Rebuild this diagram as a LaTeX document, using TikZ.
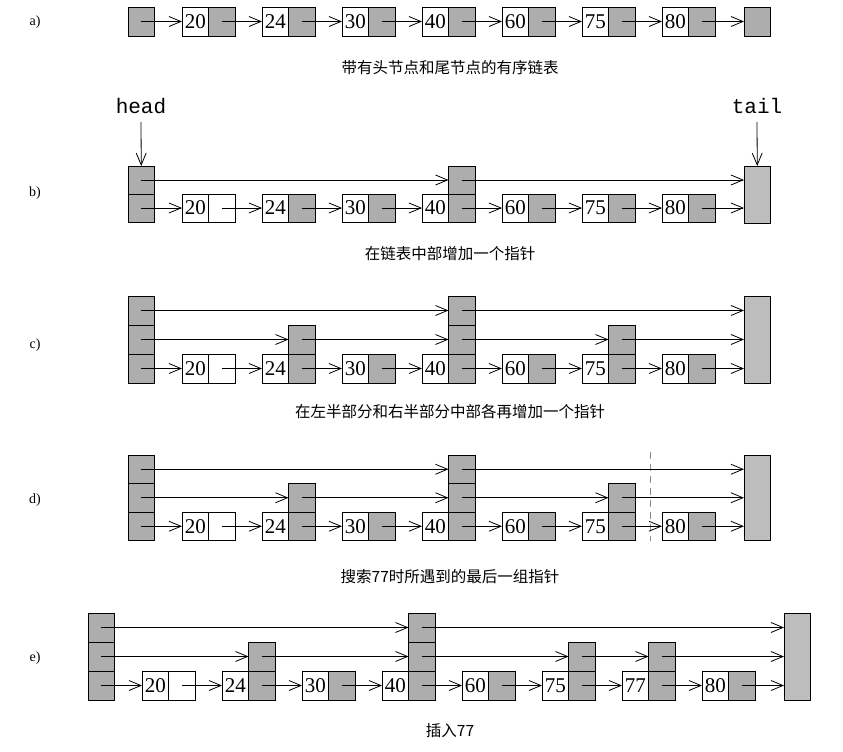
\documentclass[tikz,border=0pt]{standalone}
\usepackage{fontspec}
\setmainfont{Liberation Serif}
\newfontfamily\cjk{Noto Sans CJK SC}
\newfontfamily\monof{Liberation Mono}
\usetikzlibrary{arrows.meta,calc}
\tikzset{
  cellbase/.style={rectangle, draw=black, line width=0.9pt, minimum width=26.5pt, inner sep=0pt, outer sep=0pt, anchor=north west},
  valc/.style={cellbase, fill=white, font=\fontsize{21}{21}\selectfont},
  ptrc/.style={cellbase, fill=black!32},
  wptr/.style={cellbase, fill=white},
  tailc/.style={cellbase, fill=black!26},
  lnk/.style={line width=0.8pt, -{Straight Barb[length=12pt,width=10pt,line width=0.8pt]}},
  rowlbl/.style={font=\fontsize{14}{14}\selectfont},
  capt/.style={font=\cjk\fontsize{15.5}{15.5}\selectfont},
  ptrlbl/.style={font=\monof\fontsize{21}{21}\selectfont, inner sep=0pt},
  cut/.style={draw=black!45, line width=1pt, dash pattern=on 7pt off 5pt}
}
\begin{document}
\begin{tikzpicture}[x=1pt,y=-1pt]
\fill[white] (0,0) rectangle (843,752);
\useasboundingbox (0,0) rectangle (843,752);

% ---------------- row a ----------------
\node[rowlbl] (la) at (35,22) {a)};
\begin{scope}[every node/.append style={minimum height=29pt}]
\node[ptrc] (a-h) at (128,7) {};
\foreach \v [count=\i] in {20,24,30,40,60,75,80} {
  \node[valc] (a-v\i) at ({182+80*(\i-1)},7) {\v};
  \node[ptrc] (a-p\i) at ({208.5+80*(\i-1)},7) {};
}
\node[ptrc] (a-t) at (744,7) {};
\end{scope}
\draw[lnk] (a-h.center) -- (a-v1.west);
\foreach \i in {1,...,6} {\pgfmathtruncatemacro\j{\i+1}\draw[lnk] (a-p\i.center) -- (a-v\j.west);}
\draw[lnk] (a-p7.center) -- (a-t.west);
\node[capt] (ca) at (450,68) {带有头节点和尾节点的有序链表};

% ---------------- row b ----------------
\node[rowlbl] (lb) at (35,193) {b)};
\node[ptrlbl] (head) at (141,106) {head};
\node[ptrlbl] (tail) at (757,106) {tail};
\begin{scope}[every node/.append style={minimum height=28pt}]
\node[ptrc] (b-h0) at (128,194) {};
\node[ptrc] (b-h1) at (128,166) {};
\foreach \v [count=\i] in {20,24,30,40,60,75,80} {
  \node[valc] (b-v\i) at ({182+80*(\i-1)},194) {\v};
  \ifnum\i=1 \node[wptr] (b-p\i) at ({208.5+80*(\i-1)},194) {};
  \else \node[ptrc] (b-p\i) at ({208.5+80*(\i-1)},194) {};\fi
}
\node[ptrc] (b-q4) at (448.5,166) {};
\node[tailc, minimum height=57pt] (b-t) at (744,166) {};
\end{scope}
\draw[lnk] (head.south) ++(0,8) coordinate (hs) -- (b-h1.north);
\draw[lnk] (tail.south) ++(0,8) coordinate (ts) -- (b-t.north);
\draw[lnk] (b-h0.center) -- (b-v1.west);
\foreach \i in {1,...,6} {\pgfmathtruncatemacro\j{\i+1}\draw[lnk] (b-p\i.center) -- (b-v\j.west);}
\draw[lnk] (b-p7.center) -- (b-p7.center -| b-t.west);
\draw[lnk] (b-h1.center) -- (b-q4.west);
\draw[lnk] (b-q4.center) -- (b-q4.center -| b-t.west);
\node[capt] (cb) at (450,254) {在链表中部增加一个指针};

% ---------------- row c ----------------
\node[rowlbl] (lc) at (35,345) {c)};
\begin{scope}[every node/.append style={minimum height=29pt}]
\node[ptrc] (c-h0) at (128,354) {};
\node[ptrc] (c-h1) at (128,325) {};
\node[ptrc] (c-h2) at (128,296) {};
\foreach \v [count=\i] in {20,24,30,40,60,75,80} {
  \node[valc] (c-v\i) at ({182+80*(\i-1)},354) {\v};
  \ifnum\i=1 \node[wptr] (c-p\i) at ({208.5+80*(\i-1)},354) {};
  \else \node[ptrc] (c-p\i) at ({208.5+80*(\i-1)},354) {};\fi
}
\node[ptrc] (c-q2) at (288.5,325) {};
\node[ptrc] (c-q4) at (448.5,325) {};
\node[ptrc] (c-r4) at (448.5,296) {};
\node[ptrc] (c-q6) at (608.5,325) {};
\node[tailc, minimum height=87pt] (c-t) at (744,296) {};
\end{scope}
\draw[lnk] (c-h0.center) -- (c-v1.west);
\foreach \i in {1,...,6} {\pgfmathtruncatemacro\j{\i+1}\draw[lnk] (c-p\i.center) -- (c-v\j.west);}
\draw[lnk] (c-p7.center) -- (c-p7.center -| c-t.west);
\draw[lnk] (c-h1.center) -- (c-q2.west);
\draw[lnk] (c-q2.center) -- (c-q4.west);
\draw[lnk] (c-q4.center) -- (c-q6.west);
\draw[lnk] (c-q6.center) -- (c-q6.center -| c-t.west);
\draw[lnk] (c-h2.center) -- (c-r4.west);
\draw[lnk] (c-r4.center) -- (c-r4.center -| c-t.west);
\node[capt] (cc) at (450,412) {在左半部分和右半部分中部各再增加一个指针};

% ---------------- row d ----------------
\node[rowlbl] (ld) at (35,500) {d)};
\begin{scope}[every node/.append style={minimum height=28.5pt}]
\node[ptrc] (d-h0) at (128,512) {};
\node[ptrc] (d-h1) at (128,483.5) {};
\node[ptrc] (d-h2) at (128,455) {};
\foreach \v [count=\i] in {20,24,30,40,60,75,80} {
  \node[valc] (d-v\i) at ({182+80*(\i-1)},512) {\v};
  \ifnum\i=1 \node[wptr] (d-p\i) at ({208.5+80*(\i-1)},512) {};
  \else \node[ptrc] (d-p\i) at ({208.5+80*(\i-1)},512) {};\fi
}
\node[ptrc] (d-q2) at (288.5,483.5) {};
\node[ptrc] (d-q4) at (448.5,483.5) {};
\node[ptrc] (d-r4) at (448.5,455) {};
\node[ptrc] (d-q6) at (608.5,483.5) {};
\node[tailc, minimum height=85.5pt] (d-t) at (744,455) {};
\end{scope}
\coordinate (cut-top) at (650,452);
\coordinate (cut-bot) at (650,541);
\draw[cut] (cut-top) -- (cut-bot);
\draw[lnk] (d-h0.center) -- (d-v1.west);
\foreach \i in {1,...,6} {\pgfmathtruncatemacro\j{\i+1}\draw[lnk] (d-p\i.center) -- (d-v\j.west);}
\draw[lnk] (d-p7.center) -- (d-p7.center -| d-t.west);
\draw[lnk] (d-h1.center) -- (d-q2.west);
\draw[lnk] (d-q2.center) -- (d-q4.west);
\draw[lnk] (d-q4.center) -- (d-q6.west);
\draw[lnk] (d-q6.center) -- (d-q6.center -| d-t.west);
\draw[lnk] (d-h2.center) -- (d-r4.west);
\draw[lnk] (d-r4.center) -- (d-r4.center -| d-t.west);
\node[capt] (cd) at (450,577) {搜索77时所遇到的最后一组指针};

% ---------------- row e ----------------
\node[rowlbl] (le) at (35,658) {e)};
\begin{scope}[every node/.append style={minimum height=29pt}]
\node[ptrc] (e-h0) at (88,671) {};
\node[ptrc] (e-h1) at (88,642) {};
\node[ptrc] (e-h2) at (88,613) {};
\foreach \v [count=\i] in {20,24,30,40,60,75,77,80} {
  \node[valc] (e-v\i) at ({142+80*(\i-1)},671) {\v};
  \ifnum\i=1 \node[wptr] (e-p\i) at ({168.5+80*(\i-1)},671) {};
  \else \node[ptrc] (e-p\i) at ({168.5+80*(\i-1)},671) {};\fi
}
\node[ptrc] (e-q2) at (248.5,642) {};
\node[ptrc] (e-q4) at (408.5,642) {};
\node[ptrc] (e-r4) at (408.5,613) {};
\node[ptrc] (e-q6) at (568.5,642) {};
\node[ptrc] (e-q7) at (648.5,642) {};
\node[tailc, minimum height=87pt] (e-t) at (784,613) {};
\end{scope}
\draw[lnk] (e-h0.center) -- (e-v1.west);
\foreach \i in {1,...,7} {\pgfmathtruncatemacro\j{\i+1}\draw[lnk] (e-p\i.center) -- (e-v\j.west);}
\draw[lnk] (e-p8.center) -- (e-p8.center -| e-t.west);
\draw[lnk] (e-h1.center) -- (e-q2.west);
\draw[lnk] (e-q2.center) -- (e-q4.west);
\draw[lnk] (e-q4.center) -- (e-q6.west);
\draw[lnk] (e-q6.center) -- (e-q7.west);
\draw[lnk] (e-q7.center) -- (e-q7.center -| e-t.west);
\draw[lnk] (e-h2.center) -- (e-r4.west);
\draw[lnk] (e-r4.center) -- (e-r4.center -| e-t.west);
\node[capt] (ce) at (450,731) {插入77};
\end{tikzpicture}
\end{document}
